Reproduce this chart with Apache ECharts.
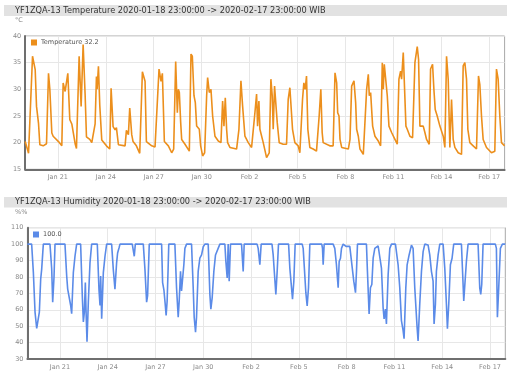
<!DOCTYPE html>
<html>
<head>
<meta charset="utf-8">
<script src="https://cdn.jsdelivr.net/npm/echarts@6/dist/echarts.min.js"></script>
<style>
  html, body { margin: 0; padding: 0; background: #fff; }
  #chart { width: 507px; height: 371px; }
</style>
</head>
<body>
<div id="chart"></div>
<script>
// time range (WIB, shown as plain UTC clock so labels don't depend on the machine's timezone)
const rangeStart = Date.UTC(2020, 0, 18, 23)
const rangeHours = 720

// [hours since 2020-01-18 23:00, value]
const temperature = [
  [0, 20.2], [5, 18.0], [7, 24], [11, 36.2], [15, 33.7], [17, 26.8], [20, 23.6], [22, 19.6], [27, 19.4], [32, 19.8],
  [35, 33.0], [37, 30], [40, 21.8], [42, 21.2], [50, 20.2], [55, 19.4],
  [57, 31.2], [60, 29.6], [64, 33.0], [67, 24.3], [70, 23.5], [75, 19.8], [77, 18.9],
  [81, 36.2], [84, 26.8], [87, 38.4], [90, 29], [92, 21.1], [97, 20.6], [100, 20.0],
  [105, 23.5], [107, 32.4], [108, 30], [110, 34.3], [112, 27], [115, 20.5], [122, 19.4], [127, 18.8],
  [129, 30.2], [132, 23], [135, 22.4], [137, 22.8], [140, 19.6], [150, 19.4],
  [152, 22.3], [155, 21.5], [157, 26.5], [160, 21.5], [162, 20.2], [167, 19.4], [172, 18.0],
  [176, 33.3], [180, 31.5], [182, 20.2], [190, 19.4], [195, 19.2],
  [201, 33.8], [204, 31.5], [206, 33], [209, 20.2], [215, 19.4],
  [220, 18.1], [223, 18.8], [226, 35.2], [228.5, 25.6], [230, 30], [231.5, 29.4], [233.5, 23.8], [235, 20.6], [240, 19.7], [246.5, 18.4],
  [249, 36.6], [251, 36.2], [253.5, 28.8], [255.5, 27.5], [257.5, 23.1], [261.5, 22.5], [263.5, 19.4], [266.5, 17.5], [269.5, 18.1],
  [272.5, 28.8], [274, 32.2], [276.5, 29.4], [279, 30], [281.5, 25], [285, 21.2], [290, 20.3], [294, 20],
  [296.5, 27.8], [298.5, 23.1], [300.5, 28.4], [302.5, 22.5], [304, 20], [307.5, 19.1], [317.5, 18.8],
  [321, 22.5], [324, 31.6], [326.5, 26.9], [330, 21.2], [335, 20], [340, 19.1],
  [345, 25.6], [347.5, 29.1], [349, 23.1], [351, 27.8], [352.5, 22.5], [355, 22.5], [357.5, 20], [362.5, 17.2], [366.5, 18.1],
  [369, 31.9], [371, 28.8], [372.5, 22.5], [374.5, 30.6], [376.5, 30.9], [378.5, 23.8], [381.5, 20], [387.5, 19.7], [392.5, 19.7],
  [395, 28.1], [397.5, 30.3], [400, 30], [401.5, 22.5], [405, 20], [410, 19.4], [412.5, 18.1],
  [416.5, 28.1], [418.5, 31.2], [420.5, 30], [422.5, 32.5], [424.5, 22.5], [427.5, 19.1], [432.5, 18.8], [437.5, 18.4],
  [441.5, 25], [444, 30], [446, 21.9], [447.5, 20], [457.5, 19.4], [462.5, 19.4],
  [465.3, 33.1], [467.8, 31.2], [469.3, 25.6], [471.3, 25], [472.8, 20.6], [475.3, 19.1], [485.3, 18.8], [487.8, 20.6],
  [490.3, 30.6], [493.8, 31.6], [496.3, 27.5], [497.8, 22.5], [500.3, 21.2], [502.8, 18.8], [507.8, 17.8], [510.3, 18.1],
  [512.8, 30], [515.3, 32.8], [516.8, 28.8], [518.8, 29.4], [521.8, 23.1], [525.3, 21.2], [530.3, 20.3], [533.8, 19.4],
  [536.3, 35], [537.8, 30], [539.3, 34.7], [541.8, 34.4], [543.8, 28.8], [546.3, 23.1], [550.3, 21.9], [555.3, 20.6], [558.8, 19.7],
  [561.3, 31.9], [563.8, 33.4], [565.3, 31.9], [567.8, 36.9], [569.8, 30], [571.8, 23.1], [573.8, 22.5], [577.8, 21.2], [581.8, 20.9],
  [585.3, 35], [588.8, 38], [590.8, 35.6], [592.8, 23.1], [597.8, 23.1], [600.3, 21.9], [602.8, 20.6], [606.8, 19.7],
  [608.8, 33.8], [611.8, 34.7], [613.8, 30], [615.8, 26.2], [618.8, 25], [622.8, 23.1], [627.8, 21.2], [630.3, 19.1],
  [632.8, 36.2], [635.3, 31.9], [637.8, 19.1], [640.3, 28.1], [642.8, 20.6], [645.3, 19.1], [650.3, 18.1], [655.3, 17.8],
  [657.8, 34.4], [660.3, 35], [662.8, 31.9], [664.8, 22.5], [667.8, 20], [672.8, 19.4], [677.8, 18.8],
  [680.8, 32.5], [682.8, 30.9], [685.3, 25], [687.8, 20.6], [692.8, 19.1], [700.3, 18.1], [705.3, 18.4],
  [707.8, 33.8], [710.3, 31.9], [712.8, 25], [715.3, 20], [720, 19.4]
]

const humidity = [
  [0, 100], [6.4, 100], [9, 82.6], [11.5, 58.6], [14, 48.6], [15.5, 48.6], [18, 58.6], [20, 78.6], [21.5, 84.6], [24, 100],
  [34, 100], [36.6, 85], [38.1, 64.6], [40.1, 80], [41.6, 100],
  [56.6, 100], [59.2, 80.6], [60.7, 72.6], [63.2, 71.6], [65.2, 62.6], [66.7, 57.6], [69.2, 82.6], [71.7, 92.6], [74.2, 100],
  [80.2, 100], [82.7, 68.6], [84.3, 52.6], [85.8, 58.6], [87.3, 76.6], [88.3, 60], [89.8, 40.6], [91.8, 64.6], [94.3, 88.6], [96.8, 100],
  [105.3, 100], [107.8, 72.6], [109.4, 62.6], [110.4, 80.6], [111.9, 54.6], [114.4, 82.6], [116.9, 92.6], [119.4, 100],
  [126.9, 100], [129.4, 84.6], [131.9, 72.6], [134.4, 88.6], [135.9, 94.6], [138, 97.6], [139.5, 100],
  [158, 100], [159.5, 99.6], [161, 92.6], [162.6, 100],
  [174.6, 100], [177.1, 84.6], [179.6, 64.6], [181.1, 68.6], [183.6, 100],
  [202.2, 100], [203.7, 76.6], [205.7, 72], [207.5, 64], [209, 56.6], [210.5, 65], [212, 85], [213, 100],
  [222.2, 100], [224.7, 73.4], [227.2, 55.4], [228.7, 65.4], [230.7, 83.4], [232.2, 71.4], [233.7, 71.4], [235.7, 87.4], [237.3, 97.4], [239.8, 100],
  [247.3, 100], [249.8, 73.4], [251.3, 55.4], [253.3, 46.4], [254.8, 55.4], [257.3, 83.4], [259.8, 91.4], [262.4, 93.4], [264.9, 98.4], [267.4, 100],
  [272.4, 100], [274.9, 69.4], [276.4, 60.4], [278.4, 67.4], [280.9, 83.4], [283.4, 93.4], [287.4, 97.4], [290, 100],
  [297.5, 100], [299, 89.4], [301, 79.4], [302.5, 100], [304, 77.4], [306, 100],
  [322.6, 100], [325.1, 83.4], [326.6, 100],
  [346, 100], [347.7, 97.4], [350.2, 87.4], [352.2, 100],
  [368.5, 100], [370.3, 93.4], [374.3, 69.4], [376.3, 83.4], [378.3, 100],
  [393.5, 100], [395.4, 85.4], [399.4, 66.4], [401.4, 77.4], [403.4, 100],
  [414, 100], [415.5, 97.4], [419.5, 70.4], [421.5, 62.4], [423.5, 73.4], [425.5, 100],
  [443.5, 100], [444.6, 97.4], [445.6, 87.4], [447.1, 100],
  [460.6, 100], [463.1, 97.4], [465.6, 87.4], [468.2, 73.4], [469.7, 89.4], [471.7, 91.4], [473.2, 97.4], [475.7, 100],
  [480, 98.6], [485.7, 98.6], [488.2, 97.4], [491.7, 77.4], [494.3, 70.4], [495.8, 83.4], [497.3, 100],
  [510.8, 100], [512.3, 83.4], [514.8, 57.4], [516.8, 73.4], [518.9, 75.4], [520.9, 91.4], [523.4, 97.4], [528.4, 99], [530.9, 98.4],
  [533.4, 85.4], [535.9, 61.4], [537.4, 54.4], [539.4, 60.4], [540.9, 51.4], [543.5, 81.4], [546, 97.4], [548.5, 100],
  [554.5, 100], [556, 99.4], [558.5, 87.4], [561, 73.4], [563.5, 53.4], [566, 47.4], [567.5, 42.4], [570.1, 73.4], [572.1, 87.4], [575.1, 93.4], [578.6, 99.4], [581.1, 97.4],
  [583.6, 73.4], [587.1, 49.4], [588.6, 41], [591.1, 63.4], [593.7, 83.4], [596.2, 95.4], [598.7, 100], [603.7, 99.4],
  [606.2, 93.4], [608.7, 83.4], [611.2, 77.4], [612.7, 51.4], [614.7, 63.4], [616.2, 83.4], [618.8, 93.4], [621.3, 100],
  [626.3, 100], [628.8, 85.4], [631.3, 63.4], [632.8, 48.4], [634.8, 63.4], [637.3, 87.4], [639.8, 91.4], [642.3, 100],
  [653.9, 100], [655.4, 85.4], [657.4, 65.4], [659.4, 66.4], [661.4, 89.4], [663.9, 100],
  [679, 100], [681.5, 73.4], [683, 69.4], [684.5, 75.4], [686.5, 100],
  [705, 100], [706.6, 97.4], [708.1, 55.4], [710.1, 73.4], [712.6, 97.4], [715.6, 100], [720, 100]
]

const xTickDates = ['2020-01-21', '2020-01-24', '2020-01-27', '2020-01-30', '2020-02-02',
  '2020-02-05', '2020-02-08', '2020-02-11', '2020-02-14', '2020-02-17']
const monthNames = ['Jan', 'Feb', 'Mar', 'Apr', 'May', 'Jun', 'Jul', 'Aug', 'Sep', 'Oct', 'Nov', 'Dec']

const tempName = 'Temperature 32.2'
const humName = '100.0'
const tempTitle = 'YF1ZQA-13 Temperature 2020-01-18 23:00:00 -> 2020-02-17 23:00:00 WIB'
const humTitle = 'YF1ZQA-13 Humidity 2020-01-18 23:00:00 -> 2020-02-17 23:00:00 WIB'

const FONT = '"DejaVu Sans", Verdana, sans-serif'
// tick positions in hours since range start
const tickHours = xTickDates.map((d) => (Date.parse(d + 'T00:00:00Z') - rangeStart) / 3600000)

function dayLabel(h) {
  const d = new Date(rangeStart + h * 3600000)
  return monthNames[d.getUTCMonth()] + ' ' + d.getUTCDate()
}

function xAxisFor(gridIndex) {
  return {
    type: 'value',
    gridIndex,
    min: 0,
    max: rangeHours,
    axisLine: { show: true, onZero: false, lineStyle: { color: '#6f6f6f', width: 2 } },
    axisTick: { show: false, customValues: tickHours },
    axisLabel: { customValues: tickHours, formatter: dayLabel, color: '#8a8a8a', fontSize: 6.5, fontFamily: FONT, margin: 5 },
    splitLine: { show: true, lineStyle: { color: '#e7e7e7', width: 1 } },
  }
}

function yAxisFor(gridIndex, min, max, interval) {
  return {
    type: 'value',
    gridIndex,
    min,
    max,
    interval,
    axisLine: { show: true, onZero: false, lineStyle: { color: '#6f6f6f', width: 2 } },
    axisTick: { show: false },
    axisLabel: { color: '#8a8a8a', fontSize: 6.5, fontFamily: FONT, margin: 4 },
    splitLine: { show: true, lineStyle: { color: '#e7e7e7', width: 1 } },
  }
}

function legendFor(name, top, left) {
  return {
    data: [name],
    left,
    top,
    padding: 0,
    icon: 'rect',
    itemWidth: 6,
    itemHeight: 6,
    itemGap: 4,
    selectedMode: false,
    textStyle: { fontSize: 6.5, color: '#545454', fontFamily: FONT, padding: [0, 0, 0, -1] },
  }
}

const chart = echarts.init(document.getElementById('chart'), null, { renderer: 'canvas' })

chart.setOption({
  animation: false,
  backgroundColor: '#fff',
  grid: [
    { left: 25.2, top: 36, width: 479.4, height: 133.3, show: true, borderColor: '#a8a8a8', borderWidth: 1 },
    { left: 27.4, top: 227.7, width: 477.9, height: 133, show: true, borderColor: '#a8a8a8', borderWidth: 1 },
  ],
  xAxis: [xAxisFor(0), xAxisFor(1)],
  yAxis: [yAxisFor(0, 15, 40, 5), yAxisFor(1, 30, 110, 10)],
  legend: [legendFor(tempName, 39, 31), legendFor(humName, 231, 33)],
  series: [
    {
      name: tempName,
      type: 'line',
      xAxisIndex: 0,
      yAxisIndex: 0,
      data: temperature,
      showSymbol: false,
      color: '#ec8f1c',
      lineStyle: { width: 1.6, color: '#ec8f1c' },
    },
    {
      name: humName,
      type: 'line',
      xAxisIndex: 1,
      yAxisIndex: 1,
      data: humidity,
      showSymbol: false,
      color: '#5b8be8',
      lineStyle: { width: 1.6, color: '#5b8be8' },
    },
  ],
  graphic: [
    { type: 'rect', shape: { x: 4, y: 5, width: 503, height: 11 }, style: { fill: '#e2e2e2' }, silent: true },
    { type: 'text', x: 15, y: 10.5, style: { text: tempTitle, font: '8.2px ' + FONT, fill: '#333', verticalAlign: 'middle' }, silent: true },
    { type: 'text', x: 15, y: 20.5, style: { text: '°C', font: '6.5px ' + FONT, fill: '#8a8a8a', verticalAlign: 'middle' }, silent: true },
    { type: 'rect', shape: { x: 4, y: 197, width: 503, height: 10.5 }, style: { fill: '#e2e2e2' }, silent: true },
    { type: 'text', x: 15, y: 202.3, style: { text: humTitle, font: '8.2px ' + FONT, fill: '#333', verticalAlign: 'middle' }, silent: true },
    { type: 'text', x: 15, y: 212.5, style: { text: '%%', font: '6.5px ' + FONT, fill: '#8a8a8a', verticalAlign: 'middle' }, silent: true },
  ],
})
</script>
</body>
</html>
